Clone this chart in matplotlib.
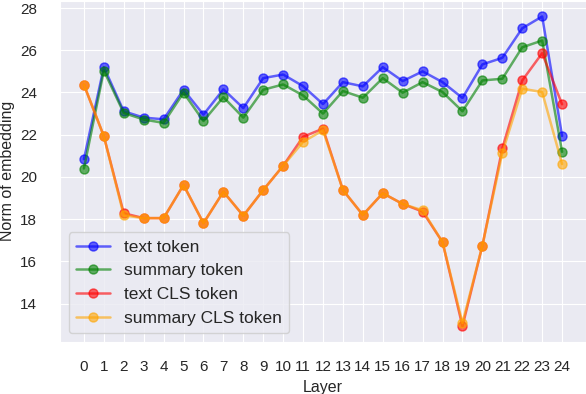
import numpy as np
import matplotlib
matplotlib.use("Agg")
import matplotlib.pyplot as plt
import seaborn as sns

sns.set_style("darkgrid")
plt.rcParams['font.family'] = ['Liberation Sans', 'DejaVu Sans']

# values
layers = list(range(25))
text_token = [20.84, 25.2, 23.11, 22.81, 22.73, 24.13, 22.95, 24.15, 23.26, 24.68,
              24.85, 24.3, 23.45, 24.49, 24.29, 25.2, 24.54, 25.0, 24.49, 23.74,
              25.33, 25.64, 27.04, 27.6, 21.94]
summary_token = [20.4, 25.04, 23.03, 22.72, 22.56, 23.99, 22.65, 23.78, 22.81, 24.13,
                 24.38, 23.86, 23.0, 24.07, 23.75, 24.68, 23.99, 24.49, 24.02, 23.11,
                 24.57, 24.65, 26.14, 26.46, 21.19]
text_cls = [24.37, 21.93, 18.28, 18.05, 18.05, 19.62, 17.81, 19.3, 18.16, 19.38,
            20.53, 21.9, 22.29, 19.38, 18.2, 19.23, 18.72, 18.36, 16.91, 12.93,
            16.75, 21.35, 24.57, 25.86, 23.44]
summary_cls = [24.37, 21.93, 18.18, 18.05, 18.05, 19.62, 17.81, 19.3, 18.16, 19.38,
               20.53, 21.66, 22.21, 19.38, 18.2, 19.23, 18.72, 18.42, 16.91, 13.09,
               16.75, 21.14, 24.18, 24.02, 20.61]

fig = plt.figure(figsize=(5.86, 3.94), dpi=100)
ax = fig.add_axes([0.1024, 0.1327, 0.8976, 0.8648])

style = dict(marker='o', markersize=6.5, linewidth=1.8, alpha=0.6)
ax.plot(layers, text_token, color='blue', label='text token', **style)
ax.plot(layers, summary_token, color='green', label='summary token', **style)
ax.plot(layers, text_cls, color='red', label='text CLS token', **style)
ax.plot(layers, summary_cls, color='orange', label='summary CLS token', **style)

ax.set_xticks(layers)
ax.set_yticks([14, 16, 18, 20, 22, 24, 26, 28])
ax.tick_params(axis='both', labelsize=11, colors='#262626')
ax.tick_params(axis='y', pad=13)
ax.tick_params(axis='x', pad=10)
ax.set_xlabel('Layer', fontsize=11.5, color='#262626')
ax.set_ylabel('Norm of embedding', fontsize=11.5, color='#262626')

ax.legend(loc='lower left', fontsize=12.5)

fig.savefig('out.png', dpi=100)
